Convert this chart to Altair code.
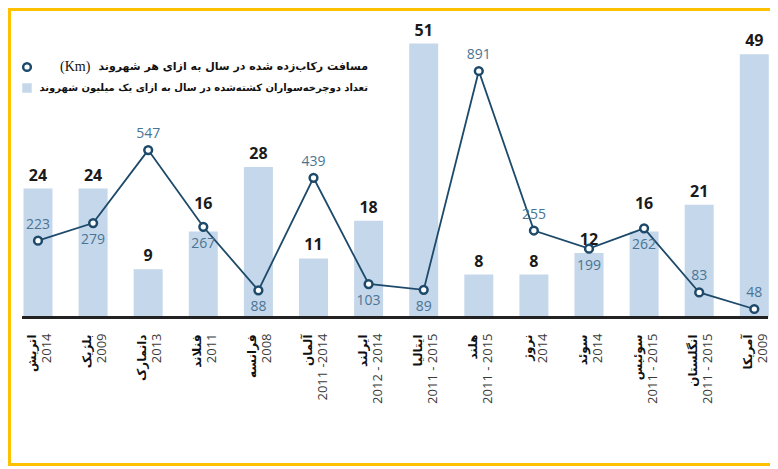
import altair as alt
import pandas as pd

# ---------------- data ----------------
countries = ["اتریش", "بلژیک", "دانمارک", "فنلاند", "فرانسه", "آلمان", "ایرلند",
             "ایتالیا", "هلند", "نروژ", "سوئد", "سوئیس", "انگلستان", "آمریکا"]
years = ["2014", "2009", "2013", "2011", "2008", "2011 -2014", "2012 - 2014",
         "2011 - 2015", "2011 - 2015", "2014", "2014", "2011 - 2015", "2011 - 2015", "2009"]
deaths = [24, 24, 9, 16, 28, 11, 18, 51, 8, 8, 12, 16, 21, 49]
km = [223, 279, 547, 267, 88, 439, 103, 89, 891, 255, 199, 262, 83, 48]
km_label_side = ["above", "below", "above", "below", "below", "above", "below",
                 "below", "above", "above", "below", "below", "above", "above"]
deaths_label_raised = [False, False, False, True, False, False, False,
                       False, False, False, False, True, False, False]

legend_km = "مسافت رکاب\u200cزده شده در سال به ازای هر شهروند"
legend_unit = "(Km)"
legend_deaths = "تعداد دوچرخه\u200cسواران کشته\u200cشده در سال به ازای یک میلیون شهروند"

df = pd.DataFrame({"country": countries, "years": years, "deaths": deaths,
                   "km": km, "side": km_label_side, "raised": deaths_label_raised})

BAR = "#c5d7ea"
LINE = "#1d4a6a"
LBL = "#4a7494"
GOLD = "#FFC000"

W, H = 762, 458

x_enc = alt.X("country:N", sort=countries, axis=None,
              scale=alt.Scale(range=[2.45, 773.85], paddingInner=0.474, paddingOuter=0.237))
bar_scale = alt.Scale(domain=[0, 51], range=[309.5, 35.5], nice=False, zero=True)
y_bar = alt.Y("deaths:Q", scale=bar_scale, axis=None)
y_line = alt.Y("km:Q", axis=None,
               scale=alt.Scale(type="pow", exponent=0.7, domain=[48, 891], range=[301, 63],
                               zero=False, nice=False))

base = alt.Chart(df)

bars = base.mark_bar(color=BAR).encode(x=x_enc, y=y_bar)
bar_label_style = dict(font="Open Sans", fontWeight="bold", fontSize=16,
                       color="#1a1a1a", baseline="bottom")
bar_labels = base.transform_filter("!datum.raised").mark_text(dy=-5, **bar_label_style).encode(
    x=x_enc, y=y_bar, text="deaths:Q")
bar_labels_raised = base.transform_filter("datum.raised").mark_text(dy=-20, **bar_label_style).encode(
    x=x_enc, y=y_bar, text="deaths:Q")
names = base.mark_text(font="DejaVu Sans", fontWeight="bold", fontSize=12, color="#111111",
                       angle=270, align="right", baseline="middle", dx=-17, dy=-6).encode(
    x=x_enc, y=alt.Y(datum=0, scale=bar_scale, axis=None), text="country:N")
year_labels = base.mark_text(font="Open Sans", fontSize=13, color="#3a3a3a",
                             angle=270, align="right", baseline="middle", dx=-16, dy=9).encode(
    x=x_enc, y=alt.Y(datum=0, scale=bar_scale, axis=None), text="years:N")

one = pd.DataFrame({"k": [0]})
axis_rule = alt.Chart(one).mark_rule(color="#222222", strokeWidth=3).encode(
    x=alt.value(14), x2=alt.value(760), y=alt.Y(datum=0, scale=bar_scale, axis=None))

# frame (top, left, bottom)
frame_top = alt.Chart(one).mark_rule(color=GOLD, strokeWidth=3).encode(
    x=alt.value(0), x2=alt.value(W), y=alt.value(1.5))
frame_bottom = alt.Chart(one).mark_rule(color=GOLD, strokeWidth=3).encode(
    x=alt.value(0), x2=alt.value(W), y=alt.value(H - 1.5))
frame_left = alt.Chart(one).mark_rule(color=GOLD, strokeWidth=3).encode(
    x=alt.value(1.5), y=alt.value(0), y2=alt.value(H))

# legend
leg1 = alt.Chart(pd.DataFrame({"t": [legend_km]}))
leg2 = alt.Chart(pd.DataFrame({"t": [legend_deaths]}))
legu = alt.Chart(pd.DataFrame({"t": [legend_unit]}))
leg_circle = leg1.mark_point(shape="circle", fill="white", stroke=LINE, strokeWidth=2.5,
                             size=60, opacity=1, fillOpacity=1).encode(
    x=alt.value(19), y=alt.value(59))
leg_square = leg2.mark_square(color=BAR, size=90, opacity=1).encode(
    x=alt.value(19), y=alt.value(80))
leg_text1 = leg1.mark_text(font="DejaVu Sans", fontWeight="bold", fontSize=11,
                           color="#111111", align="right", baseline="middle").encode(
    x=alt.value(360), y=alt.value(59), text="t:N")
leg_unit = legu.mark_text(font="Liberation Serif", fontSize=14, color="#111111",
                          align="left", baseline="middle").encode(
    x=alt.value(52), y=alt.value(59), text="t:N")
leg_text2 = leg2.mark_text(font="DejaVu Sans", fontWeight="bold", fontSize=10,
                           color="#111111", align="right", baseline="middle").encode(
    x=alt.value(360), y=alt.value(80), text="t:N")

line = base.mark_line(color=LINE, strokeWidth=1.8).encode(x=x_enc, y=y_line)
points = base.mark_point(shape="circle", fill="white", stroke=LINE, strokeWidth=2.5,
                         size=60, opacity=1, fillOpacity=1).encode(x=x_enc, y=y_line)
lab_above = base.transform_filter("datum.side == 'above'").mark_text(
    font="Open Sans", fontSize=14, color=LBL, baseline="middle", dy=-16).encode(
    x=x_enc, y=y_line, text="km:Q")
lab_below = base.transform_filter("datum.side == 'below'").mark_text(
    font="Open Sans", fontSize=14, color=LBL, baseline="middle", dy=17).encode(
    x=x_enc, y=y_line, text="km:Q")

bar_group = alt.layer(bars, bar_labels, bar_labels_raised, names, year_labels, axis_rule,
                      frame_top, frame_bottom, frame_left,
                      leg_circle, leg_square, leg_text1, leg_unit, leg_text2)
line_group = alt.layer(line, points, lab_above, lab_below)

chart = alt.layer(bar_group, line_group).resolve_scale(y="independent").properties(
    width=W, height=H, padding=0,
    autosize=alt.AutoSizeParams(type="none"),
    background="white",
).configure_view(stroke=None)

chart.save("out.html", embed_options={"renderer": "svg", "actions": False})
